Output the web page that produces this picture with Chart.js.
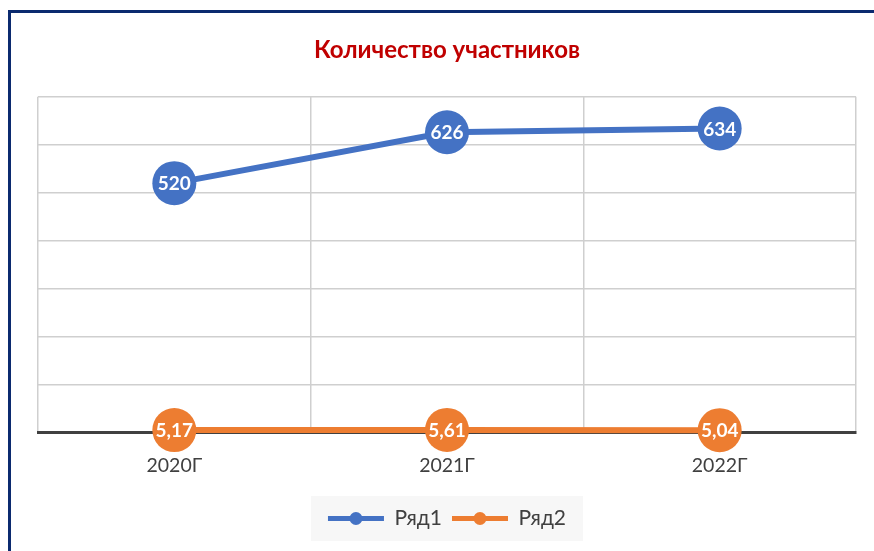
<!DOCTYPE html>
<html>
<head>
<meta charset="utf-8">
<script src="https://cdn.jsdelivr.net/npm/chart.js@4.4.1/dist/chart.umd.min.js"></script>
<style>
  html, body { margin: 0; padding: 0; background: #ffffff; }
  #wrap { position: relative; width: 874px; height: 551px; }
</style>
</head>
<body>
<div id="wrap"><canvas id="c" width="874" height="551"></canvas></div>
<script>
const categories = ['2020Г', '2021Г', '2022Г'];
const series1 = [520, 626, 634];
const series2 = [5.17, 5.61, 5.04];
const seriesNames = ['Ряд1', 'Ряд2'];
const chartTitle = 'Количество участников';
const yTicks = [0, 100, 200, 300, 400, 500, 600, 700];

const BLUE = '#4472C4';
const ORANGE = '#ED7D31';
const FONT = 'Lato, "Open Sans", "Liberation Sans", sans-serif';

const fmt = v => Number.isInteger(v) ? String(v) : v.toFixed(2).replace('.', ',');

const decorPlugin = {
  id: 'decor',
  beforeDraw(chart) {
    const ctx = chart.ctx;
    ctx.save();
    // outer frame
    ctx.strokeStyle = '#0b2a6f';
    ctx.lineWidth = 3;
    ctx.beginPath();
    ctx.moveTo(9.5, chart.height + 5);
    ctx.lineTo(9.5, 11.5);
    ctx.lineTo(chart.width + 5, 11.5);
    ctx.stroke();
    // legend background
    const lg = chart.legend;
    if (lg && lg.legendHitBoxes && lg.legendHitBoxes.length) {
      const hbs = lg.legendHitBoxes;
      const l = hbs[0].left, r = hbs[hbs.length - 1].left + hbs[hbs.length - 1].width;
      const cx = (l + r) / 2;
      const cy = hbs[0].top + hbs[0].height / 2;
      const w = 272, h = 45;
      ctx.fillStyle = '#f7f7f7';
      ctx.fillRect(cx - w / 2, cy - h / 2, w, h);
    }
    ctx.restore();
  },
  afterDatasetsDraw(chart) {
    const ctx = chart.ctx;
    ctx.save();
    ctx.fillStyle = '#ffffff';
    ctx.font = 'bold 19px ' + FONT;
    ctx.textAlign = 'center';
    ctx.textBaseline = 'middle';
    chart.data.datasets.forEach((ds, di) => {
      const meta = chart.getDatasetMeta(di);
      meta.data.forEach((pt, i) => {
        ctx.fillText(fmt(ds.data[i]), pt.x, pt.y + 1);
      });
    });
    ctx.restore();
  },
  afterDraw(chart) {
    const lg = chart.legend;
    if (!lg || !lg.legendHitBoxes) return;
    const ctx = chart.ctx;
    ctx.save();
    lg.legendHitBoxes.forEach((hb, i) => {
      const color = chart.data.datasets[i].borderColor;
      ctx.fillStyle = color;
      ctx.beginPath();
      ctx.arc(hb.left + 28, hb.top + hb.height / 2, 6.5, 0, Math.PI * 2);
      ctx.fill();
    });
    ctx.restore();
  }
};

new Chart(document.getElementById('c'), {
  type: 'line',
  data: {
    labels: categories,
    datasets: [
      { label: seriesNames[0], data: series1, borderColor: BLUE, backgroundColor: BLUE,
        borderWidth: 6, pointRadius: 22, pointHoverRadius: 22, pointBackgroundColor: BLUE,
        pointBorderWidth: 0, clip: false },
      { label: seriesNames[1], data: series2, borderColor: ORANGE, backgroundColor: ORANGE,
        borderWidth: 6, pointRadius: 22, pointHoverRadius: 22, pointBackgroundColor: ORANGE,
        pointBorderWidth: 0, clip: false }
    ]
  },
  options: {
    responsive: false,
    animation: false,
    events: [],
    layout: { autoPadding: false, padding: { left: 38, right: 18, top: 0, bottom: 12 } },
    plugins: {
      tooltip: { enabled: false },
      title: {
        display: true,
        text: chartTitle,
        color: '#C00000',
        font: { family: FONT, size: 24, weight: 'bold' },
        padding: { top: 36, bottom: 32 }
      },
      legend: {
        display: true,
        position: 'bottom',
        labels: {
          font: { family: FONT, size: 21 },
          color: '#404040',
          boxWidth: 56,
          boxHeight: 5,
          padding: 10,
          useBorderRadius: true,
          borderRadius: 2.5,
          generateLabels(chart) {
            return chart.data.datasets.map((ds, i) => ({
              text: ds.label,
              fillStyle: ds.borderColor,
              strokeStyle: ds.borderColor,
              lineWidth: 0,
              fontColor: '#404040',
              hidden: false,
              datasetIndex: i
            }));
          }
        }
      }
    },
    scales: {
      x: {
        offset: true,
        grid: { offset: true, color: '#cfcfcf', lineWidth: 1.5, drawTicks: false },
        border: { display: true, color: '#404040', width: 3 },
        ticks: { color: '#404040', font: { family: FONT, size: 19.5 }, padding: 21 }
      },
      y: {
        min: yTicks[0],
        max: yTicks[yTicks.length - 1],
        afterBuildTicks(scale) { scale.ticks = yTicks.map(v => ({ value: v })); },
        grid: { color: '#cfcfcf', lineWidth: 1.5, drawTicks: false },
        border: { display: false },
        ticks: { display: false }
      }
    }
  },
  plugins: [decorPlugin]
});
</script>
</body>
</html>
